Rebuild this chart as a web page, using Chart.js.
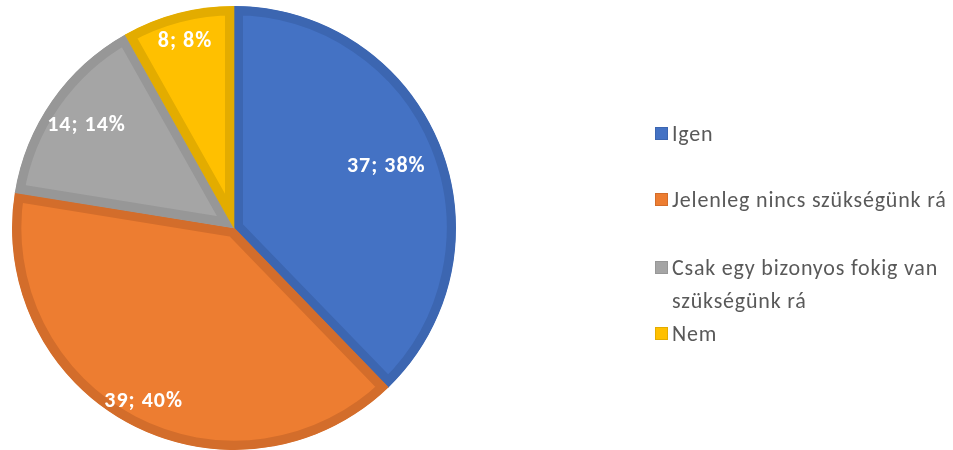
<!DOCTYPE html>
<html>
<head>
<meta charset="utf-8">
<script src="https://cdn.jsdelivr.net/npm/chart.js@4/dist/chart.umd.min.js"></script>
<style>
  html, body { margin: 0; padding: 0; background: #fff; }
  #wrap { position: relative; width: 953px; height: 450px; }
  #pie { position: absolute; left: 0; top: 0; }
  #legend { position: absolute; left: 655px; top: 0; font-family: Carlito, Lato, sans-serif; font-size: 22px; letter-spacing: 0.8px; color: #595959; }
  .item { position: absolute; left: 0; white-space: nowrap; line-height: 33px; }
  .box { position: absolute; left: 0; top: 10px; width: 13px; height: 13px; box-sizing: border-box; border: 1px solid; }
  .txt { margin-left: 17px; }
</style>
</head>
<body>
<div id="wrap">
  <canvas id="pie" width="953" height="450"></canvas>
  <div id="legend"></div>
</div>
<script>
// Survey answers
const labels = ['Igen', 'Jelenleg nincs szükségünk rá', 'Csak egy bizonyos fokig van szükségünk rá', 'Nem'];
const counts = [37, 39, 14, 8];

// Legend text split into the lines it is shown on
const legendLines = [['Igen'], ['Jelenleg nincs szükségünk rá'], ['Csak egy bizonyos fokig van', 'szükségünk rá'], ['Nem']];

const fillColors = ['#4472C4', '#ED7D31', '#A5A5A5', '#FFC000'];
const edgeColors = ['#3C66B1', '#D36D2B', '#979797', '#E3AC00'];

// how far out along each slice its label sits (fraction of radius)
const labelDepth = [0.74, 0.88, 0.81, 0.87];
// top of each legend row
const legendTops = [117, 183, 251, 317];

const total = counts.reduce((a, b) => a + b, 0);

const sliceLabels = {
  id: 'sliceLabels',
  afterDatasetsDraw(chart) {
    const ctx = chart.ctx;
    const arcs = chart.getDatasetMeta(0).data;
    ctx.save();
    ctx.font = 'bold 22px Carlito, Lato, sans-serif';
    ctx.letterSpacing = '1px';
    ctx.fillStyle = '#ffffff';
    ctx.textAlign = 'center';
    ctx.textBaseline = 'middle';
    arcs.forEach((arc, i) => {
      const mid = (arc.startAngle + arc.endAngle) / 2;
      const r = arc.outerRadius * labelDepth[i];
      const pct = Math.round(counts[i] / total * 100);
      ctx.fillText(counts[i] + '; ' + pct + '%', arc.x + Math.cos(mid) * r, arc.y + Math.sin(mid) * r);
    });
    ctx.restore();
  }
};

new Chart(document.getElementById('pie'), {
  type: 'pie',
  data: {
    labels: labels,
    datasets: [{
      data: counts,
      backgroundColor: fillColors,
      borderColor: edgeColors,
      borderWidth: 9,
      borderAlign: 'inner'
    }]
  },
  options: {
    responsive: false,
    animation: false,
    layout: { padding: { left: 12, right: 497, top: 6, bottom: 0 } },
    plugins: {
      legend: { display: false },
      tooltip: { enabled: false }
    }
  },
  plugins: [sliceLabels]
});

// legend on the right
const legend = document.getElementById('legend');
legendLines.forEach((lines, i) => {
  const item = document.createElement('div');
  item.className = 'item';
  item.style.top = legendTops[i] + 'px';
  const box = document.createElement('span');
  box.className = 'box';
  box.style.background = fillColors[i];
  box.style.borderColor = edgeColors[i];
  item.appendChild(box);
  const txt = document.createElement('div');
  txt.className = 'txt';
  txt.innerHTML = lines.join('<br>');
  item.appendChild(txt);
  legend.appendChild(item);
});
</script>
</body>
</html>
